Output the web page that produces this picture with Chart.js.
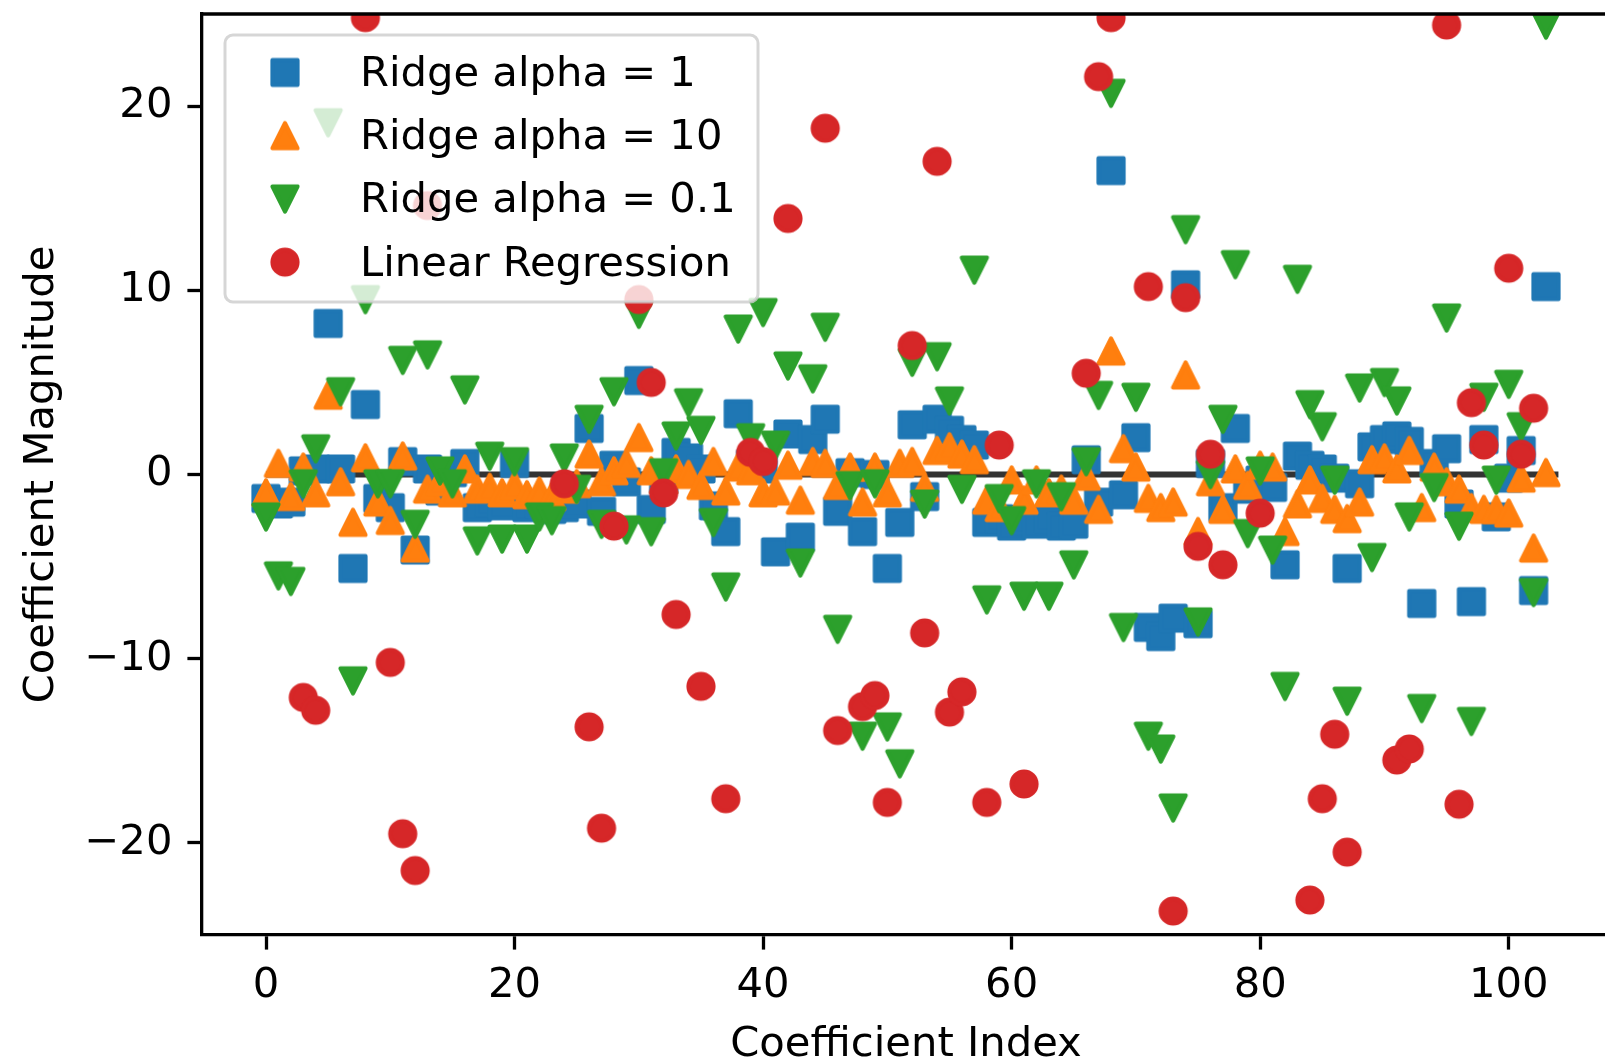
<!DOCTYPE html>
<html>
<head>
<meta charset="utf-8">
<script src="https://cdn.jsdelivr.net/npm/chart.js@4.4.1/dist/chart.umd.min.js"></script>
<style>
  html, body { margin: 0; padding: 0; background: #fff; overflow: hidden; }
  canvas { display: block; }
</style>
</head>
<body>
<canvas id="coefChart" width="1612" height="1064"></canvas>
<script>
// Coefficients per feature index (0..103) for each model
const ridge1 = [
  -1.3, -1.6, -1.5, 0.2, 0.3, 8.2, 0.3, -5.1, 3.8, -1.3,
  -1.8, 0.7, -4.1, 0.3, -0.9, 0.1, 0.6, -1.8, -1.5, -1.7,
  0.6, -1.8, -1.6, -1.9, -1.8, -1.6, 2.5, -2.0, 0.5, -0.4,
  5.1, -1.9, -0.3, 1.2, 0.9, 0.3, -1.7, -3.1, 3.3, 0.6,
  0.3, -4.2, 2.2, -3.4, 1.9, 3.0, -2.0, 0.1, -3.1, 0.0,
  -5.1, -2.6, 2.7, -1.2, 3.0, 2.4, 1.9, 1.6, -2.6, -2.4,
  -2.8, -2.5, -2.7, -2.4, -2.8, -2.7, 0.8, -1.5, 16.5, -1.1,
  2.0, -8.3, -8.8, -7.8, 10.3, -8.1, 0.6, -1.8, 2.5, -0.8,
  -0.3, -0.7, -4.9, 1.0, 0.5, 0.3, -0.2, -5.1, -0.5, 1.5,
  1.9, 2.1, 1.8, -7.0, 0.6, 1.4, -1.6, -6.9, 1.9, -2.3,
  -0.2, 1.3, -6.3, 10.2
];
const ridge10 = [
  -1.0, 0.6, -1.2, 0.4, -1.0, 4.3, -0.4, -2.6, 0.9, -1.5,
  -2.5, 1.0, -4.0, -0.8, -0.4, -1.0, 0.3, -0.8, -0.7, -1.0,
  -0.6, -1.1, -0.9, -1.2, -0.8, -0.5, 1.1, -0.4, 0.2, 0.6,
  2.0, 0.2, -0.3, 0.3, 0.0, -0.6, 0.7, -0.9, 0.4, 0.2,
  -1.0, -0.9, 0.5, -1.4, 0.7, 0.6, -0.6, 0.4, -1.5, 0.4,
  -1.0, 0.6, 0.7, -0.7, 1.3, 1.5, 1.1, 0.8, -1.4, -1.8,
  -0.3, -1.4, -0.3, -1.0, -0.8, -1.4, -0.1, -1.9, 6.7, 1.4,
  0.4, -1.3, -1.8, -1.5, 5.4, -3.1, -0.4, -1.9, 0.3, -0.6,
  0.5, 0.4, -3.1, -1.6, -0.3, -1.3, -1.9, -2.4, -1.5, 0.8,
  0.9, 0.3, 1.3, -1.8, 0.4, -0.4, -0.8, -1.8, -1.9, -1.9,
  -2.1, -0.2, -4.0, 0.1
];
const ridge01 = [
  -2.3, -5.5, -5.8, -0.5, 1.4, 19.1, 4.5, -11.2, 9.5, -0.5,
  -0.5, 6.2, -2.7, 6.5, 0.2, -0.5, 4.6, -3.6, 1.0, -3.5,
  0.7, -3.5, -2.3, -2.5, 0.9, -0.8, 3.0, -2.7, 4.5, -3.0,
  8.7, -3.1, 0.1, 2.1, 3.9, 2.4, -2.6, -6.1, 7.9, 2.0,
  8.8, 1.6, 5.9, -4.8, 5.2, 8.0, -8.4, -0.6, -14.2, -0.5,
  -13.7, -15.7, 6.1, -1.6, 6.4, 4.0, -0.8, 11.1, -6.8, -1.3,
  -2.5, -6.6, -0.5, -6.6, -1.2, -4.9, 0.7, 4.3, 20.7, -8.3,
  4.2, -14.2, -14.9, -18.1, 13.3, -8.0, 0.0, 3.0, 11.4, -3.2,
  0.2, -4.1, -11.5, 10.6, 3.8, 2.6, -0.3, -12.3, 4.7, -4.5,
  5.0, 4.0, -2.3, -12.7, -0.7, 8.5, -2.8, -13.4, 4.2, -0.3,
  4.9, 2.6, -6.4, 24.4
];
// null = coefficient lies outside the plotted -25..25 window
const linReg = [
  null, null, null, -12.1, -12.8, null, null, null, 24.8, null,
  -10.2, -19.5, -21.5, 14.6, null, null, null, null, null, null,
  null, null, null, null, -0.5, null, -13.7, -19.2, -2.8, null,
  9.5, 5.0, -1.0, -7.6, null, -11.5, null, -17.6, null, 1.2,
  0.7, null, 13.9, null, null, 18.8, -13.9, null, -12.6, -12.0,
  -17.8, null, 7.0, -8.6, 17.0, -12.9, -11.8, null, -17.8, 1.6,
  null, -16.8, null, null, null, null, 5.5, 21.6, 24.8, null,
  null, 10.2, null, -23.7, 9.6, -3.9, 1.1, -4.9, null, null,
  -2.1, null, null, null, -23.1, -17.6, -14.1, -20.5, null, null,
  null, -15.5, -14.9, null, null, 24.4, -17.9, 3.9, 1.6, null,
  11.2, 1.1, 3.6, null
];

const seriesLabels = ['Ridge alpha = 1', 'Ridge alpha = 10', 'Ridge alpha = 0.1', 'Linear Regression'];
const xTicks = [0, 20, 40, 60, 80, 100];
const yTicks = [-20, -10, 0, 10, 20];

const FONT = 'DejaVu Sans';
const FS = 41.7;

// matplotlib-style marker sprites: s, ^, v, o
function markerSprite(shape, color) {
  const size = 34;
  const c = document.createElement('canvas');
  c.width = size; c.height = size;
  const g = c.getContext('2d');
  const m = size / 2, h = 12.5;
  g.fillStyle = color;
  g.strokeStyle = color;
  g.lineWidth = 4.2;
  g.lineJoin = 'round';
  g.beginPath();
  if (shape === 'square') {
    g.rect(m - h, m - h, 2 * h, 2 * h);
  } else if (shape === 'circle') {
    g.arc(m, m, h, 0, Math.PI * 2);
  } else if (shape === 'up') {
    g.moveTo(m, m - h); g.lineTo(m + h, m + h); g.lineTo(m - h, m + h); g.closePath();
  } else {
    g.moveTo(m, m + h); g.lineTo(m + h, m - h); g.lineTo(m - h, m - h); g.closePath();
  }
  g.fill();
  g.stroke();
  return c;
}

const sprites = [
  markerSprite('square', '#1f77b4'),
  markerSprite('up', '#ff7f0e'),
  markerSprite('down', '#2ca02c'),
  markerSprite('circle', '#d62728')
];

function toPoints(values) {
  const pts = [];
  values.forEach((v, i) => { if (v !== null) pts.push({ x: i, y: v }); });
  return pts;
}

function scatterSet(values, idx, order) {
  return {
    label: seriesLabels[idx],
    data: toPoints(values),
    pointStyle: sprites[idx],
    pointRadius: 14,
    showLine: false,
    clip: 0,
    order: order
  };
}

const tickLabel = v => (v < 0 ? '\u2212' + Math.abs(v) : String(v));

// top spine + legend box drawn over the data
const frameAndLegend = {
  id: 'frameAndLegend',
  afterDraw(chart) {
    const { ctx, chartArea: a } = chart;
    ctx.save();
    ctx.strokeStyle = '#000';
    ctx.lineWidth = 3.3;
    ctx.beginPath();
    ctx.moveTo(a.left - 1.65, a.top);
    ctx.lineTo(a.right, a.top);
    ctx.stroke();

    const bx = 225, by = 35, bw = 533, bh = 267, r = 8;
    ctx.beginPath();
    ctx.moveTo(bx + r, by);
    ctx.arcTo(bx + bw, by, bx + bw, by + bh, r);
    ctx.arcTo(bx + bw, by + bh, bx, by + bh, r);
    ctx.arcTo(bx, by + bh, bx, by, r);
    ctx.arcTo(bx, by, bx + bw, by, r);
    ctx.closePath();
    ctx.fillStyle = 'rgba(255,255,255,0.8)';
    ctx.fill();
    ctx.strokeStyle = 'rgba(204,204,204,0.8)';
    ctx.lineWidth = 3;
    ctx.stroke();

    ctx.font = FS + 'px "' + FONT + '"';
    ctx.fillStyle = '#000';
    ctx.textBaseline = 'alphabetic';
    seriesLabels.forEach((label, i) => {
      const rowY = 72.5 + i * 63.2;
      const s = sprites[i];
      ctx.drawImage(s, 285 - s.width / 2, rowY - s.height / 2);
      ctx.fillText(label, 360, rowY + 13.5);
    });
    ctx.restore();
  }
};

new Chart(document.getElementById('coefChart'), {
  type: 'scatter',
  data: {
    datasets: [
      scatterSet(ridge1, 0, 4),
      scatterSet(ridge10, 1, 3),
      scatterSet(ridge01, 2, 2),
      scatterSet(linReg, 3, 1),
      {
        label: 'zero',
        data: [{ x: 0, y: 0 }, { x: ridge1.length, y: 0 }],
        showLine: true,
        borderColor: '#333333',
        borderWidth: 6,
        pointRadius: 0,
        clip: 0,
        order: 5
      }
    ]
  },
  options: {
    responsive: false,
    animation: false,
    events: [],
    layout: { autoPadding: false, padding: { top: 14, right: 2, left: 0, bottom: 0 } },
    plugins: {
      legend: { display: false },
      tooltip: { enabled: false }
    },
    scales: {
      x: {
        type: 'linear',
        min: -5.15,
        max: 108.15,
        afterBuildTicks: s => { s.ticks = xTicks.map(v => ({ value: v })); },
        afterFit: s => { s.height = 129; s.paddingLeft = 0; s.paddingRight = 0; },
        grid: { drawOnChartArea: false, tickLength: 14.6, tickWidth: 3.3, tickColor: '#000' },
        border: { color: '#000', width: 3.3 },
        ticks: {
          color: '#000',
          padding: 12,
          maxRotation: 0,
          autoSkip: false,
          font: { family: FONT, size: FS },
          callback: v => tickLabel(v)
        },
        title: {
          display: true,
          text: 'Coefficient Index',
          color: '#000',
          font: { family: FONT, size: FS, lineHeight: 0.88 },
          padding: { top: 0, bottom: 0 }
        }
      },
      y: {
        type: 'linear',
        min: -25,
        max: 25,
        afterBuildTicks: s => { s.ticks = yTicks.map(v => ({ value: v })); },
        afterFit: s => { s.width = 202; s.paddingTop = 0; s.paddingBottom = 0; },
        grid: { drawOnChartArea: false, tickLength: 14.6, tickWidth: 3.3, tickColor: '#000' },
        border: { color: '#000', width: 3.3 },
        ticks: {
          color: '#000',
          padding: 15,
          autoSkip: false,
          font: { family: FONT, size: FS },
          callback: v => tickLabel(v)
        },
        title: {
          display: true,
          text: 'Coefficient Magnitude',
          color: '#000',
          font: { family: FONT, size: FS },
          padding: { top: 17, bottom: 0 }
        }
      }
    }
  },
  plugins: [frameAndLegend]
});
</script>
</body>
</html>
